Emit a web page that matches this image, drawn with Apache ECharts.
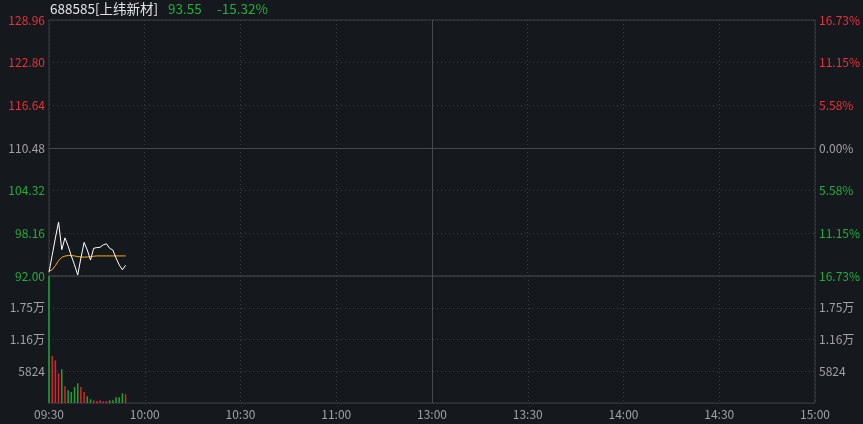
<!DOCTYPE html>
<html><head><meta charset="utf-8">
<script src="https://cdn.jsdelivr.net/npm/echarts@6/dist/echarts.min.js"></script>
<style>html,body{margin:0;padding:0;background:#15181d;}#c{width:863px;height:424px;}</style>
</head><body><div id="c"></div>
<script>
// ---- data ----
const stockCode = '688585';
const stockName = '上纬新材';
const lastPrice = '93.55';
const lastChange = '-15.32%';
const prevClose = 110.48;
const priceMin = 92.00;
const priceMax = 128.96;
const priceStep = 6.16;
const volumeMax = 23296;
const volumeStep = 5824;
const timeTicks = ['09:30','10:00','10:30','11:00','13:00','13:30','14:00','14:30','15:00'];
const minutesTotal = 240;
const prices = [92.55, 95.0, 97.5, 99.8, 95.8, 97.5, 96.3, 94.9, 93.6, 92.15, 94.6, 96.85, 95.75, 94.3, 96.0, 96.1, 96.15, 96.5, 96.65, 96.0, 95.75, 94.6, 93.6, 92.9, 93.55];
const avgPrices = [92.7, 92.9, 93.5, 94.2, 94.7, 94.88, 94.95, 94.95, 94.9, 94.8, 94.75, 94.72, 94.75, 94.8, 94.85, 94.9, 94.9, 94.9, 94.9, 94.9, 94.9, 94.9, 94.9, 94.9, 94.9];
const volumes = [23296, 8600, 7800, 5450, 6180, 3060, 2330, 2020, 2930, 3610, 2930, 2020, 1230, 680, 490, 370, 490, 310, 370, 490, 490, 1040, 1040, 1780, 1600];

// ---- styles ----
const RED = '#ec2f38', GREEN = '#22ad3c', GRAY = '#9fa1a6';
const BAR_RED = '#dc232c', BAR_GREEN = '#1ea530';
const BORDER = '#3a3d43', DOT = '#3d4046';
const FONT = '"Noto Sans CJK SC", "Noto Sans", sans-serif';

function priceColor(v) {
  if (Math.abs(v - prevClose) < 0.005) return GRAY;
  return v > prevClose ? RED : GREEN;
}
const priceData = prices.map((p, i) => [i, p]);
const avgData = avgPrices.map((p, i) => [i, p]);
const volData = volumes.map((v, i) => {
  const prev = i === 0 ? prevClose : prices[i - 1];
  return { value: [i, v], itemStyle: { color: prices[i] > prev ? BAR_RED : BAR_GREEN } };
});

function volLabel(v) {
  if (v <= 0 || v >= volumeMax - 1) return '';
  if (v >= 10000) return (v / 10000).toFixed(2) + '万';
  return String(Math.round(v));
}

const xCommon = {
  type: 'value', min: 0, max: minutesTotal, interval: 30,
  axisLine: { show: false }, axisTick: { show: false },
  splitLine: { show: true, lineStyle: { color: DOT, type: [1, 3], width: 1 } }
};

const option = {
  backgroundColor: '#15181d',
  animation: false,
  textStyle: { fontFamily: FONT },
  graphic: [
    { type: 'text', left: 50, top: 2, style: { text: stockCode + '[' + stockName + ']', fill: '#e2e4e8', font: '13.5px ' + FONT } },
    { type: 'text', left: 168, top: 2, style: { text: lastPrice, fill: GREEN, font: '13.5px ' + FONT } },
    { type: 'text', left: 217, top: 2, style: { text: lastChange, fill: GREEN, font: '13.5px ' + FONT } }
  ],
  grid: [
    { left: 49, right: 48, top: 20, height: 256, show: true, borderColor: BORDER, borderWidth: 1 },
    { left: 49, right: 48, top: 276, height: 127, show: true, borderColor: BORDER, borderWidth: 1 }
  ],
  xAxis: [
    Object.assign({ gridIndex: 0, axisLabel: { show: false } }, xCommon),
    Object.assign({ gridIndex: 1, axisLabel: { show: true, color: GRAY, fontSize: 12, margin: 5,
      formatter: v => timeTicks[Math.round(v / 30)] || '' } }, xCommon)
  ],
  yAxis: [
    { type: 'value', gridIndex: 0, position: 'left', min: priceMin, max: priceMax, interval: priceStep,
      axisLine: { show: false }, axisTick: { show: false },
      splitLine: { show: true, lineStyle: { color: DOT, type: [1, 3] } },
      axisLabel: { margin: 4, fontSize: 12, formatter: v => v.toFixed(2), color: v => priceColor(v) } },
    { type: 'value', gridIndex: 0, position: 'right', min: priceMin, max: priceMax, interval: priceStep,
      axisLine: { show: false }, axisTick: { show: false }, splitLine: { show: false },
      axisLabel: { margin: 4, fontSize: 12, formatter: v => (Math.abs(v - prevClose) / prevClose * 100).toFixed(2) + '%', color: v => priceColor(v) } },
    { type: 'value', gridIndex: 1, position: 'left', min: 0, max: volumeMax, interval: volumeStep,
      axisLine: { show: false }, axisTick: { show: false },
      splitLine: { show: true, lineStyle: { color: DOT, type: [1, 3] } },
      axisLabel: { margin: 4, fontSize: 12, color: GRAY, formatter: volLabel } },
    { type: 'value', gridIndex: 1, position: 'right', min: 0, max: volumeMax, interval: volumeStep,
      axisLine: { show: false }, axisTick: { show: false }, splitLine: { show: false },
      axisLabel: { margin: 4, fontSize: 12, color: GRAY, formatter: volLabel } }
  ],
  series: [
    { type: 'line', xAxisIndex: 0, yAxisIndex: 0, data: priceData, showSymbol: false, z: 5,
      lineStyle: { color: '#ffffff', width: 1 },
      markLine: { silent: true, symbol: 'none', label: { show: false },
        lineStyle: { color: '#45484e', type: 'solid', width: 1 },
        data: [{ yAxis: prevClose }, { xAxis: minutesTotal / 2 }] } },
    { type: 'line', xAxisIndex: 0, yAxisIndex: 0, data: avgData, showSymbol: false, z: 4,
      lineStyle: { color: '#f7ad1c', width: 1 } },
    { type: 'bar', xAxisIndex: 1, yAxisIndex: 2, data: volData, barWidth: 1.5,
      markLine: { silent: true, symbol: 'none', label: { show: false },
        lineStyle: { color: '#45484e', type: 'solid', width: 1 },
        data: [{ xAxis: minutesTotal / 2 }] } }
  ]
};
const chart = echarts.init(document.getElementById('c'), null, { renderer: 'canvas' });
chart.setOption(option);
</script>
</body></html>
